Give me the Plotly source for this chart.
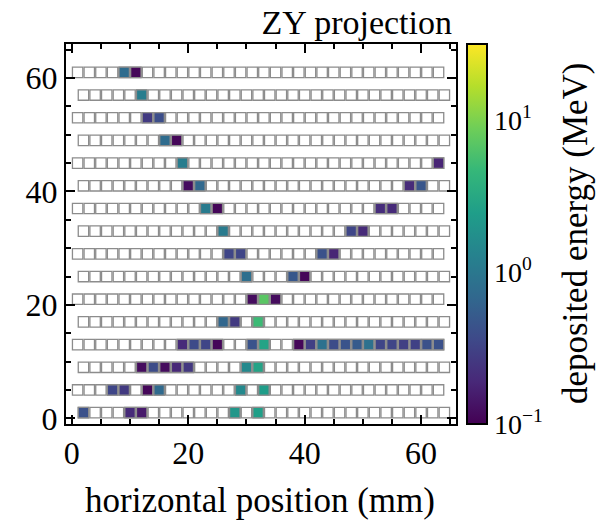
import numpy as np
import plotly.graph_objects as go

# ---------------- data ----------------
# detector layers (vertical centre of each layer of cells, mm)
layer_y = [1, 5, 9, 13, 17, 21, 25, 29, 33, 37, 41, 45, 49, 53, 57, 61]
# horizontal cell centres: layers alternate between two staggered positions
cells_shifted = list(range(2, 65, 2))   # layers 0, 2, 4, ...
cells_plain = list(range(1, 64, 2))     # layers 1, 3, 5, ...

# hit cells: vertical position, horizontal position, deposited energy (MeV)
hit_y = [1, 1, 1, 1, 1,
         5, 5, 5, 5, 5, 5,
         9, 9, 9, 9, 9, 9, 9,
         13, 13, 13, 13, 13, 13, 13, 13, 13, 13, 13, 13, 13, 13, 13, 13, 13, 13, 13,
         17, 17, 17,
         21, 21, 21,
         25, 25, 25,
         29, 29, 29, 29,
         33, 33, 33,
         37, 37, 37, 37,
         41, 41, 41, 41,
         45, 45,
         49, 49,
         53, 53,
         57,
         61, 61]
hit_x = [2, 10, 12, 28, 32,
         7, 9, 13, 15, 29, 33,
         12, 14, 16, 18, 20, 30, 32,
         19, 21, 23, 25, 31, 33, 39, 41, 43, 45, 47, 49, 51, 53, 55, 57, 59, 61, 63,
         26, 28, 32,
         31, 33, 35,
         30, 38, 40,
         27, 29, 43, 45,
         26, 48, 50,
         23, 25, 53, 55,
         20, 22, 58, 60,
         19, 63,
         16, 18,
         13, 15,
         12,
         9, 11]
hit_e = [0.42, 0.20, 0.15, 2.1, 2.5,
         0.34, 0.27, 0.11, 0.72, 1.5, 2.4,
         0.12, 0.38, 0.12, 0.19, 0.26, 1.5, 2.8,
         0.20, 0.37, 0.33, 0.11, 0.44, 2.8, 0.11, 0.30, 0.85, 0.38, 0.44, 0.52, 0.85,
         0.33, 0.33, 0.30, 0.31, 0.42, 0.42,
         0.67, 0.27, 5.0,
         0.12, 7.0, 0.12,
         0.80, 0.48, 0.11,
         0.33, 0.33, 0.42, 0.18,
         1.1, 0.34, 0.20,
         1.1, 0.11, 0.21, 0.20,
         0.12, 0.70, 0.20, 0.47,
         1.15, 0.18,
         0.75, 0.11,
         0.27, 0.40,
         1.15,
         0.75, 0.11]

cbar_tick_vals = [0.1, 1, 10]
cbar_tick_text = ["10<sup>−1</sup>", "10<sup>0</sup>", "10<sup>1</sup>"]
cbar_minor_vals = [0.2, 0.3, 0.4, 0.5, 0.6, 0.7, 0.8, 0.9,
                   2, 3, 4, 5, 6, 7, 8, 9, 20, 30]
e_min, e_max = 0.1, 31.6

# ---------------- figure ----------------
FONT = "Liberation Serif"
W, H = 610, 522
ML, MR, MT, MB = 66, 123, 44, 98
paper_w = W - ML - MR
plot_w = 390
def px(x):  # pixel column -> paper fraction
    return (x - ML) / paper_w

grid_x, grid_y = [], []
for i, yy in enumerate(layer_y):
    xs = cells_shifted if i % 2 == 0 else cells_plain
    grid_x += xs
    grid_y += [yy] * len(xs)

fig = go.Figure()
fig.add_trace(go.Scatter(
    x=grid_x, y=grid_y, mode="markers", hoverinfo="skip", showlegend=False,
    marker=dict(symbol="square", size=10.4, color="white",
                line=dict(color="#8c8c8c", width=1.3)),
))

fig.add_trace(go.Scatter(
    x=hit_x, y=hit_y, mode="markers", showlegend=False,
    marker=dict(symbol="square", size=10.4,
                color=np.log10(hit_e), colorscale="Viridis",
                cmin=np.log10(e_min), cmax=np.log10(e_max),
                line=dict(color="#8c8c8c", width=1.3),
                colorbar=dict(
                    x=px(467), xanchor="left", xref="paper",
                    y=0.5, yanchor="middle", len=1, lenmode="fraction",
                    thickness=20, thicknessmode="pixels",
                    xpad=0, ypad=0,
                    outlinecolor="black", outlinewidth=2,
                    showticklabels=False, ticks="",
                )),
))
# invisible trace to carry the colour-scale axis
fig.add_trace(go.Scatter(x=[None], y=[None], yaxis="y2", showlegend=False,
                         hoverinfo="skip"))

axis_common = dict(
    showgrid=False, zeroline=False, showline=True, linecolor="black", linewidth=2,
    mirror="ticks", ticks="inside", ticklen=9, tickwidth=2, tickcolor="black",
    dtick=20, tick0=0,
    minor=dict(ticks="inside", ticklen=5, tickwidth=1.5, tickcolor="black", dtick=5),
    tickfont=dict(family=FONT, size=32, color="black"),
)
fig.update_xaxes(range=[-1, 66], domain=[0, plot_w / paper_w], **axis_common)
fig.update_yaxes(range=[-1, 66], **axis_common)

fig.update_layout(
    width=W, height=H,
    margin=dict(l=ML, r=MR, t=MT, b=MB),
    paper_bgcolor="white", plot_bgcolor="white",
    font=dict(family=FONT, color="black"),
    yaxis2=dict(
        overlaying="y", anchor="free", position=1.0, side="right",
        type="log", range=[np.log10(e_min), np.log10(e_max)],
        showgrid=False, zeroline=False, showline=False,
        tickmode="array", tickvals=cbar_tick_vals, ticktext=cbar_tick_text,
        ticks="inside", ticklen=8, tickwidth=1.5, tickcolor="black",
        minor=dict(tickmode="array", tickvals=cbar_minor_vals, ticks="inside",
                   ticklen=8, tickwidth=1.5, tickcolor="black"),
        tickfont=dict(family=FONT, size=28, color="black"),
        ticklabelstandoff=6,
    ),
    title=dict(text="ZY projection", x=px(452), xref="paper", xanchor="right",
               y=1 - 22 / H, yref="container", yanchor="middle",
               font=dict(family=FONT, size=34, color="black")),
    annotations=[
        dict(text="horizontal position (mm)", xref="paper", yref="paper",
             x=px(260), y=-0.2, xanchor="center", yanchor="middle", showarrow=False,
             font=dict(family=FONT, size=35, color="black")),
        dict(text="deposited energy (MeV)", xref="paper", yref="paper",
             x=px(575), y=0.5, xanchor="center", yanchor="middle", showarrow=False,
             textangle=-90, font=dict(family=FONT, size=35, color="black")),
    ],
)

fig.write_html("out.html")
